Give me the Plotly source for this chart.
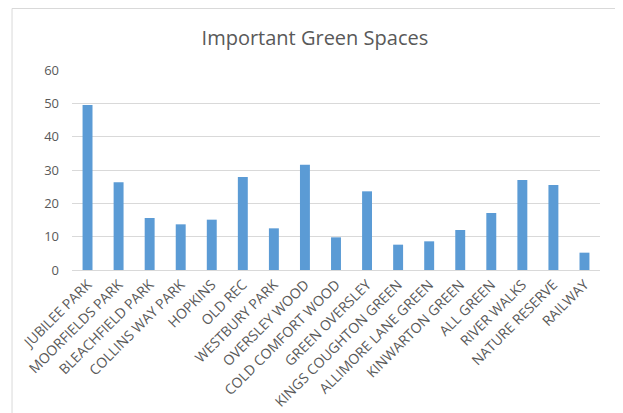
import plotly.graph_objects as go

categories = ["JUBILEE PARK", "MOORFIELDS PARK", "BLEACHFIELD PARK", "COLLINS WAY PARK",
              "HOPKINS", "OLD REC", "WESTBURY PARK", "OVERSLEY WOOD", "COLD COMFORT WOOD",
              "GREEN OVERSLEY", "KINGS COUGHTON GREEN", "ALLIMORE LANE GREEN",
              "KINWARTON GREEN", "ALL GREEN", "RIVER WALKS", "NATURE RESERVE", "RAILWAY"]
values = [49.5, 26.3, 15.6, 13.7, 15.1, 27.9, 12.5, 31.6, 9.8,
          23.6, 7.6, 8.6, 12.0, 17.1, 27.0, 25.5, 5.2]
y_ticks = [0, 10, 20, 30, 40, 50, 60]

fig = go.Figure(go.Bar(x=categories, y=values, marker=dict(color="#5B9BD5", line=dict(width=0))))

fig.update_layout(
    width=615, height=405,
    margin=dict(l=64, r=23, t=62, b=143),
    paper_bgcolor="white", plot_bgcolor="white",
    bargap=0.68,
    showlegend=False,
    title=dict(text="Important Green Spaces", x=0.499, xanchor="center", y=0.927, yanchor="middle",
               font=dict(family="Open Sans", size=20, color="#595959")),
    font=dict(family="Open Sans", color="#595959"),
    xaxis=dict(tickangle=-45, tickfont=dict(size=14, color="#595959"), showgrid=False,
               showline=True, linecolor="#D9D9D9", linewidth=1, ticks="", automargin=False),
    yaxis=dict(range=[0, 60], tickvals=y_ticks, tickfont=dict(size=13, color="#595959"),
               showgrid=True, gridcolor="#D9D9D9", gridwidth=1, zeroline=False,
               showline=False, ticks="", ticklabelstandoff=12, automargin=False),
    shapes=[dict(type="rect", xref="paper", yref="paper", x0=-0.1136, x1=1.032, y0=-0.8, y1=1.3075,
                 line=dict(color="#D9D9D9", width=1), fillcolor="rgba(0,0,0,0)", layer="below")],
)

fig.write_html("out.html")
